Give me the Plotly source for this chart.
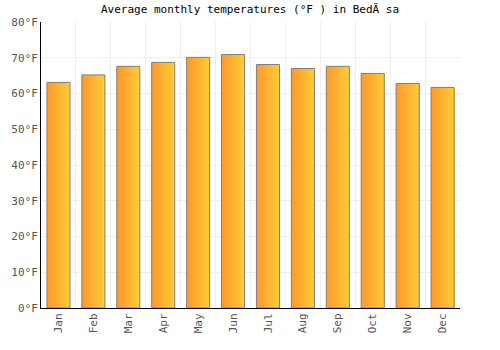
import plotly.graph_objects as go

months = ["Jan", "Feb", "Mar", "Apr", "May", "Jun", "Jul", "Aug", "Sep", "Oct", "Nov", "Dec"]
temps_f = [63.1, 65.2, 67.6, 68.7, 70.1, 70.9, 68.1, 67.0, 67.6, 65.6, 62.8, 61.7]
y_ticks = [0, 10, 20, 30, 40, 50, 60, 70, 80]
y_tick_text = [f"{v}°F" for v in y_ticks]

title = "Average monthly temperatures (°F ) in BedÄ sa"

bar_w = 0.66
n_slices = 24
c0 = (255, 153, 46)
c1 = (255, 204, 54)

fig = go.Figure()
sw = bar_w / n_slices
for i in range(n_slices):
    t = i / (n_slices - 1)
    col = "rgb({},{},{})".format(*[round(a + (b - a) * t) for a, b in zip(c0, c1)])
    fig.add_trace(go.Bar(
        x=months, y=temps_f,
        width=bar_w - i * sw, offset=-bar_w / 2 + i * sw,
        marker=dict(color=col, line=dict(width=0)),
        hoverinfo="skip", showlegend=False,
    ))
fig.add_trace(go.Bar(
    x=months, y=temps_f, width=bar_w, offset=-bar_w / 2,
    marker=dict(color="rgba(0,0,0,0)", line=dict(color="#808080", width=1)),
    showlegend=False,
))

fig.update_layout(
    width=500, height=350,
    margin=dict(l=41, r=40, t=22, b=42),
    barmode="overlay",
    paper_bgcolor="white", plot_bgcolor="white",
    font=dict(family="DejaVu Sans Mono", size=11, color="#555555"),
    title=dict(text=title, x=0.5, xanchor="center", y=0.985, yanchor="top",
               font=dict(family="DejaVu Sans Mono", size=11, color="black")),
    xaxis=dict(
        type="category", tickson="boundaries", ticklen=0,
        showgrid=True, gridcolor="#eeeeee", gridwidth=1,
        showline=True, linecolor="black", linewidth=1,
        tickangle=-90, tickfont=dict(color="#555555", size=11),
        range=[-0.5, 11.5],
    ),
    yaxis=dict(
        range=[0, 80], tickvals=y_ticks, ticktext=y_tick_text,
        showgrid=True, gridcolor="#eeeeee", gridwidth=1,
        showline=True, linecolor="black", linewidth=1,
        zeroline=False, ticks="", tickfont=dict(color="#555555", size=11),
    ),
)

fig.write_html("out.html")
